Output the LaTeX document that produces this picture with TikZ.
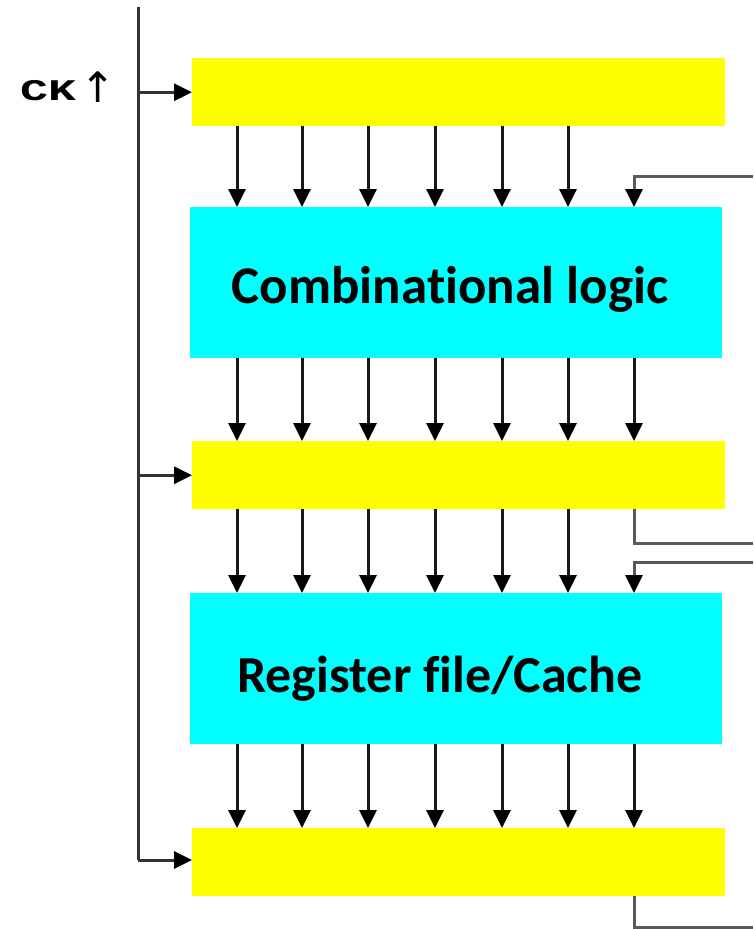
\documentclass[tikz,border=0pt]{standalone}
\usepackage{fontspec}
\setmainfont[Ligatures=NoCommon]{Carlito}
\newfontfamily\ckfont{Liberation Mono}
\newfontfamily\symfont{DejaVu Sans}
\usetikzlibrary{arrows.meta}
\definecolor{regyellow}{RGB}{255,255,0}
\definecolor{logiccyan}{RGB}{0,255,255}
\begin{document}
\begin{tikzpicture}[x=1pt,y=-1pt,
  regbox/.style={rectangle,fill=regyellow,draw=none,inner sep=0pt,anchor=north west,minimum width=533pt,minimum height=68pt},
  logicbox/.style={rectangle,fill=logiccyan,draw=none,inner sep=0pt,anchor=north west,minimum width=532pt,minimum height=151pt},
  wire/.style={line width=3pt,draw=black!90},
  fb/.style={line width=3pt,draw=black!65},
  tip/.style={-{Triangle[length=18pt,width=17pt,color=black]}},
  lbl/.style={font=\bfseries\fontsize{53}{58}\selectfont,anchor=base,inner sep=0pt}
]
\useasboundingbox (0,0) rectangle (753,929);
% boxes
\node[regbox] (r1) at (192,58) {};
\node[logicbox] (cl) at (190,207) {};
\node[regbox] (r2) at (192,441) {};
\node[logicbox] (rf) at (190,593) {};
\node[regbox] (r3) at (192,828) {};
\node[lbl] (tcl) at (450,303) {Combinational logic};
\node[lbl,font=\bfseries\fontsize{52}{58}\selectfont] (trf) at (440,692) {Register file/Cache};
% column coordinates
\foreach \i/\x in {1/237,2/302,3/368,4/435,5/502,6/568,7/634}
  \coordinate (c\i) at (\x,0);
% clock
\coordinate (cktop) at (138,7);
\coordinate (ckbot) at (138,860);
\draw[wire,draw=black!80] (cktop) -- (ckbot);
\draw[wire,draw=black!80,tip] (ckbot) -- (ckbot -| r3.west);
\draw[wire,draw=black!80,tip] (cktop |- r1.west) -- (r1.west);
\draw[wire,draw=black!80,tip] (cktop |- r2.west) -- (r2.west);
\node[anchor=base west,inner sep=0pt] (ck) at (20,100) {\ckfont\bfseries\scalebox{1.55}[1]{\fontsize{30}{32}\selectfont CK}};
\node[anchor=base,inner sep=0pt] (ckarrow) at (98,102) {\symfont\fontsize{42}{44}\selectfont ↑};
% data arrows
\foreach \i in {1,...,6}
  \draw[wire,tip] (r1.south -| c\i) -- (cl.north -| c\i);
\foreach \i in {1,...,7}{
  \draw[wire,tip] (cl.south -| c\i) -- (r2.north -| c\i);
  \draw[wire,tip] (rf.south -| c\i) -- (r3.north -| c\i);
}
\foreach \i in {1,...,6}
  \draw[wire,tip] (r2.south -| c\i) -- (rf.north -| c\i);
% feedback lines
\coordinate (f1) at (753,176);
\coordinate (f2) at (753,543);
\coordinate (f3) at (753,562);
\coordinate (f4) at (753,927);
\draw[fb,tip] (f1) -| (cl.north -| c7);
\draw[fb] (r2.south -| c7) |- (f2);
\draw[fb,tip] (f3) -| (rf.north -| c7);
\draw[fb] (r3.south -| c7) |- (f4);
\end{tikzpicture}
\end{document}
